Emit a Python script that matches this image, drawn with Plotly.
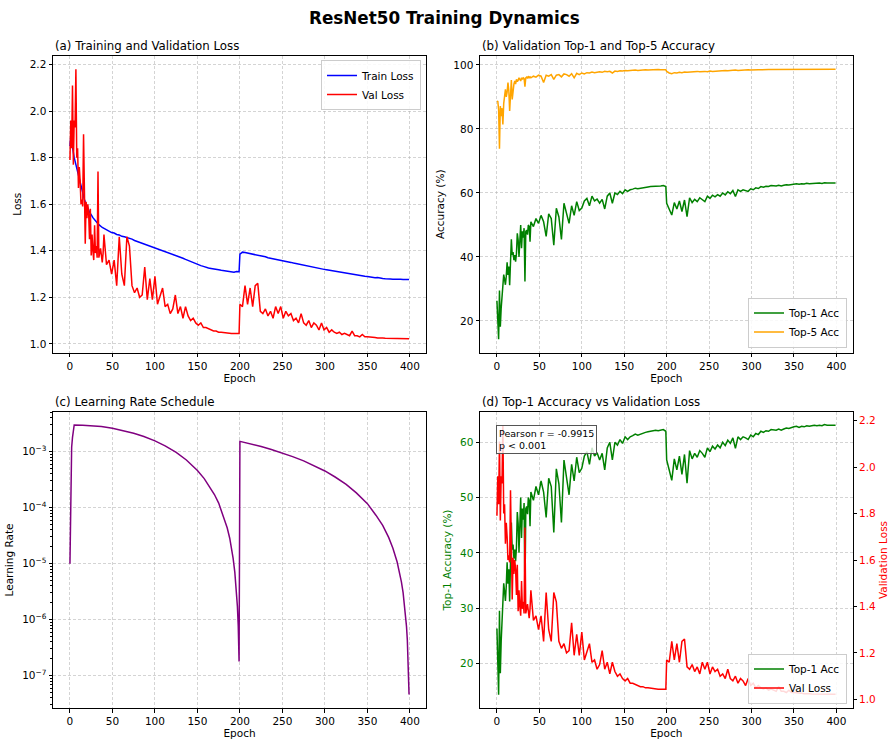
import plotly.graph_objects as go

# ---------------- data ----------------
epochs = list(range(0, 40)) + list(range(40, 200, 3)) + list(range(200, 399, 3)) + [399]

train_loss_early = [1.85, 1.89, 1.87, 1.84, 1.82, 1.80, 1.785, 1.77, 1.75, 1.735,
                    1.72, 1.70, 1.685, 1.67, 1.66, 1.645, 1.63, 1.62, 1.61, 1.60,
                    1.595, 1.582, 1.576, 1.566, 1.56, 1.556, 1.549, 1.542, 1.537, 1.531,
                    1.528, 1.523, 1.52, 1.516, 1.512, 1.51, 1.507, 1.503, 1.50, 1.498]
train_loss_mid = [1.495, 1.49, 1.486, 1.478, 1.476, 1.47, 1.468, 1.462, 1.46, 1.457,
                  1.452, 1.45, 1.444, 1.44, 1.436, 1.433, 1.428, 1.425, 1.42, 1.416,
                  1.414, 1.41, 1.405, 1.403, 1.398, 1.394, 1.39, 1.385, 1.38, 1.376,
                  1.372, 1.368, 1.363, 1.358, 1.353, 1.348, 1.344, 1.34, 1.336, 1.333,
                  1.328, 1.326, 1.324, 1.323, 1.32, 1.318, 1.316, 1.314, 1.312, 1.31,
                  1.31, 1.308, 1.311, 1.31]
train_loss_late = [1.385, 1.394, 1.392, 1.39, 1.388, 1.386, 1.385, 1.383, 1.381, 1.378,
                   1.374, 1.37, 1.368, 1.366, 1.365, 1.362, 1.36, 1.358, 1.355, 1.352,
                   1.35, 1.347, 1.345, 1.342, 1.34, 1.337, 1.334, 1.332, 1.33, 1.328,
                   1.326, 1.324, 1.322, 1.32, 1.318, 1.316, 1.313, 1.312, 1.31, 1.308,
                   1.306, 1.304, 1.302, 1.301, 1.299, 1.296, 1.296, 1.293, 1.291, 1.29,
                   1.289, 1.287, 1.286, 1.284, 1.285, 1.282, 1.281, 1.28, 1.281, 1.279,
                   1.278, 1.279, 1.277, 1.278, 1.277, 1.276, 1.278, 1.277]

val_loss_early = [1.79, 1.96, 1.84, 2.11, 1.77, 1.96, 1.93, 2.18, 1.80, 1.84,
                  1.67, 1.76, 1.70, 1.60, 1.62, 1.59, 1.90, 1.59, 1.43, 1.61,
                  1.54, 1.60, 1.56, 1.45, 1.58, 1.38, 1.47, 1.40, 1.36, 1.51,
                  1.39, 1.42, 1.37, 1.74, 1.37, 1.39, 1.41, 1.38, 1.35, 1.39]
val_loss_mid = [1.47, 1.34, 1.36, 1.30, 1.36, 1.25, 1.46, 1.30, 1.25, 1.46,
                1.42, 1.25, 1.22, 1.24, 1.20, 1.21, 1.33, 1.19, 1.28, 1.19,
                1.29, 1.17, 1.21, 1.24, 1.16, 1.17, 1.13, 1.15, 1.21, 1.13,
                1.16, 1.11, 1.16, 1.12, 1.10, 1.11, 1.09, 1.08, 1.09, 1.07,
                1.07, 1.065, 1.06, 1.055, 1.055, 1.05, 1.05, 1.048, 1.046, 1.045,
                1.044, 1.044, 1.044, 1.044]
val_loss_late = [1.17, 1.16, 1.25, 1.17, 1.24, 1.16, 1.25, 1.26, 1.14, 1.13,
                 1.15, 1.12, 1.14, 1.11, 1.16, 1.13, 1.16, 1.11, 1.14, 1.12,
                 1.13, 1.10, 1.11, 1.09, 1.13, 1.09, 1.08, 1.10, 1.07, 1.09,
                 1.08, 1.06, 1.09, 1.06, 1.07, 1.05, 1.06, 1.05, 1.045, 1.05,
                 1.04, 1.045, 1.04, 1.035, 1.055, 1.035, 1.035, 1.03, 1.04, 1.03,
                 1.03, 1.03, 1.027, 1.027, 1.025, 1.026, 1.025, 1.024, 1.024, 1.024,
                 1.023, 1.023, 1.023, 1.023, 1.022, 1.022, 1.022, 1.022]

top1_early = [26.3, 21.0, 14.3, 29.5, 18.2, 24.0, 28.0, 32.3, 34.5, 33.0,
              31.3, 34.0, 38.3, 34.4, 37.0, 31.2, 36.5, 45.5, 40.6, 41.5,
              39.0, 40.6, 38.5, 41.0, 47.4, 45.3, 40.0, 44.0, 50.0, 42.7,
              48.0, 46.0, 49.0, 32.3, 48.0, 48.4, 47.0, 50.0, 49.5, 44.8]
top1_mid = [51.0, 49.5, 52.0, 50.5, 53.0, 51.0, 46.4, 53.5, 52.0, 43.7,
            55.2, 52.5, 45.5, 56.8, 54.0, 50.5, 56.0, 53.0, 57.3, 54.5,
            55.3, 57.5, 58.3, 56.0, 59.0, 57.5, 58.1, 56.8, 58.0, 55.0,
            59.0, 60.0, 56.8, 60.0, 59.5, 60.5, 59.8, 61.0, 60.5, 61.0,
            61.2, 61.5, 61.3, 61.5, 61.7, 61.8, 61.9, 62.0, 62.0, 62.2,
            62.1, 62.2, 62.3, 62.0]
top1_late = [56.8, 55.0, 53.1, 57.0, 55.0, 57.5, 54.2, 57.8, 52.6, 58.5,
             57.0, 58.0, 57.3, 58.5, 58.0, 57.3, 59.0, 58.3, 59.3, 58.8,
             59.5, 59.0, 60.0, 59.4, 60.4, 59.8, 60.8, 58.9, 61.0, 60.5,
             61.0, 60.8, 60.5, 61.3, 61.0, 61.6, 61.4, 62.0, 61.8, 62.1,
             62.0, 62.3, 62.2, 62.2, 62.4, 62.2, 62.4, 62.6, 62.5, 62.7,
             62.8, 62.9, 62.7, 62.9, 62.8, 63.0, 62.9, 63.0, 63.1, 63.0,
             63.1, 63.0, 63.2, 63.1, 63.1, 63.0, 63.1, 63.1]

top5_early = [88.5, 88.7, 86.0, 73.8, 87.2, 84.0, 86.5, 81.4, 88.0, 90.5,
              92.4, 90.0, 91.5, 94.5, 92.0, 85.6, 93.8, 95.3, 89.2, 93.5,
              94.0, 95.0, 94.0, 95.5, 94.8, 95.2, 96.0, 95.5, 95.0, 96.0,
              95.5, 96.0, 95.8, 93.2, 96.0, 96.2, 95.8, 96.5, 96.0, 96.3]
top5_mid = [96.0, 96.5, 96.2, 96.8, 96.5, 94.5, 96.8, 96.5, 97.0, 95.5,
            96.8, 97.0, 96.3, 97.2, 97.0, 96.5, 97.3, 96.0, 97.4, 97.0,
            97.5, 97.2, 97.6, 97.5, 97.8, 97.6, 97.8, 97.9, 97.7, 98.0,
            97.9, 98.0, 97.5, 98.1, 98.0, 98.2, 98.1, 98.3, 98.2, 98.3,
            98.3, 98.4, 98.3, 98.4, 98.4, 98.5, 98.4, 98.5, 98.5, 98.5,
            98.6, 98.5, 98.6, 98.5]
top5_late = [98.0, 97.5, 97.3, 97.6, 97.5, 97.7, 97.6, 97.8, 97.7, 97.8,
             97.9, 97.8, 98.0, 97.9, 98.0, 98.0, 97.9, 98.1, 98.0, 98.1,
             98.2, 98.1, 98.2, 98.3, 98.2, 98.3, 98.3, 98.4, 98.3, 98.4,
             98.4, 98.4, 98.5, 98.4, 98.5, 98.5, 98.5, 98.5, 98.6, 98.5,
             98.6, 98.6, 98.6, 98.6, 98.6, 98.6, 98.7, 98.6, 98.7, 98.7,
             98.7, 98.7, 98.7, 98.7, 98.7, 98.7, 98.7, 98.7, 98.7, 98.7,
             98.7, 98.7, 98.7, 98.7, 98.7, 98.7, 98.7, 98.7]

lr_epochs = [0, 1, 2, 3, 4, 5, 15, 25, 37, 50, 62, 75, 87, 100, 112, 125, 137, 150,
             158, 165, 170, 175, 180, 185, 188, 190, 192, 194, 195, 196, 197, 198, 199,
             200, 210, 225, 237, 250, 262, 275, 287, 300, 312, 325, 337, 350, 360, 368,
             375, 380, 385, 388, 390, 392, 394, 395, 396, 397, 398, 399]
lr_values = [1.0e-5, 6.1e-4, 1.2e-3, 1.8e-3, 2.4e-3, 3.0e-3, 2.98e-3, 2.92e-3, 2.805e-3,
             2.62e-3, 2.41e-3, 2.14e-3, 1.87e-3, 1.56e-3, 1.27e-3, 9.68e-4, 7.10e-4, 4.62e-4,
             3.31e-4, 2.30e-4, 1.72e-4, 1.21e-4, 7.49e-5, 4.37e-5, 2.85e-5, 1.95e-5, 1.24e-5,
             7.0e-6, 4.87e-6, 3.11e-6, 1.75e-6, 7.79e-7, 1.8e-7,
             1.53e-3, 1.41e-3, 1.233e-3, 1.093e-3, 9.47e-4, 8.16e-4, 6.84e-4, 5.67e-4, 4.53e-4,
             3.53e-4, 2.61e-4, 1.84e-4, 1.18e-4, 7.35e-5, 4.83e-5, 2.95e-5, 1.89e-5, 1.07e-5,
             6.83e-6, 4.74e-6, 3.04e-6, 1.71e-6, 1.19e-6, 7.59e-7, 4.27e-7, 1.90e-7, 4.6e-8]

lr_tickvals = [1e-7, 1e-6, 1e-5, 1e-4, 1e-3]
lr_ticktext = ["10<sup>\u22127</sup>", "10<sup>\u22126</sup>", "10<sup>\u22125</sup>",
               "10<sup>\u22124</sup>", "10<sup>\u22123</sup>"]

pearson_text = "Pearson r = -0.9915<br>p &lt; 0.001"

train_loss = train_loss_early + train_loss_mid + train_loss_late
val_loss = val_loss_early + val_loss_mid + val_loss_late
top1 = top1_early + top1_mid + top1_late
top5 = top5_early + top5_mid + top5_late
for s in (train_loss, val_loss, top1, top5):
    assert len(s) == len(epochs), (len(s), len(epochs))
assert len(lr_epochs) == len(lr_values)

# ---------------- layout helpers ----------------
W, H = 889, 739
FONT = "DejaVu Sans"
FS = 10.5
TFS = 11.8


def xd(a, b):
    return [a / W, b / W]


def yd(top, bottom):
    return [1 - bottom / H, 1 - top / H]


grid = dict(showgrid=True, gridcolor="rgba(176,176,176,0.55)", gridwidth=0.8, griddash="3px,2px")
axis_common = dict(showline=True, linecolor="black", linewidth=1, mirror=True,
                   ticks="outside", ticklen=3.5, tickwidth=0.8, tickcolor="black",
                   zeroline=False, automargin=False,
                   tickfont=dict(family=FONT, size=FS, color="black"))

fig = go.Figure()
LW = 1.5

# (a)
fig.add_trace(go.Scatter(x=epochs, y=train_loss, mode="lines", name="Train Loss",
                         line=dict(color="blue", width=LW), xaxis="x", yaxis="y", legend="legend"))
fig.add_trace(go.Scatter(x=epochs, y=val_loss, mode="lines", name="Val Loss",
                         line=dict(color="red", width=LW), xaxis="x", yaxis="y", legend="legend"))
# (b)
fig.add_trace(go.Scatter(x=epochs, y=top1, mode="lines", name="Top-1 Acc",
                         line=dict(color="green", width=LW), xaxis="x2", yaxis="y2", legend="legend2"))
fig.add_trace(go.Scatter(x=epochs, y=top5, mode="lines", name="Top-5 Acc",
                         line=dict(color="orange", width=LW), xaxis="x2", yaxis="y2", legend="legend2"))
# (c)
fig.add_trace(go.Scatter(x=lr_epochs, y=lr_values, mode="lines", name="LR", showlegend=False,
                         line=dict(color="purple", width=LW), xaxis="x3", yaxis="y3"))
# (d)
fig.add_trace(go.Scatter(x=epochs, y=top1, mode="lines", name="Top-1 Acc",
                         line=dict(color="green", width=LW), xaxis="x4", yaxis="y4", legend="legend3"))
fig.add_trace(go.Scatter(x=epochs, y=val_loss, mode="lines", name="Val Loss",
                         line=dict(color="red", width=LW), xaxis="x4", yaxis="y5", legend="legend3"))

xr = [-19.95, 418.95]
top_row = (55.7, 352.7)
bot_row = (411.7, 708.3)
left_col = (53, 426)
right_col = (480, 852.5)

xtitle = dict(text="Epoch", font=dict(family=FONT, size=FS, color="black"), standoff=1)

minor_vals = [m * 10.0 ** e for e in range(-8, -2) for m in range(2, 10)]

fig.update_layout(
    width=W, height=H, margin=dict(l=0, r=0, t=0, b=0),
    paper_bgcolor="white", plot_bgcolor="white",
    font=dict(family=FONT, size=FS, color="black"),
    xaxis=dict(domain=xd(*left_col), anchor="y", range=xr, dtick=50, tick0=0,
               title=xtitle, **grid, **axis_common),
    yaxis=dict(domain=yd(*top_row), anchor="x", range=[0.962, 2.238], dtick=0.2, tick0=0,
               tickformat=".1f",
               title=dict(text="Loss", font=dict(family=FONT, size=FS), standoff=6),
               **grid, **axis_common),
    xaxis2=dict(domain=xd(*right_col), anchor="y2", range=xr, dtick=50, tick0=0,
                title=xtitle, **grid, **axis_common),
    yaxis2=dict(domain=yd(*top_row), anchor="x2", range=[10.08, 102.9], dtick=20, tick0=0,
                title=dict(text="Accuracy (%)", font=dict(family=FONT, size=FS), standoff=6),
                **grid, **axis_common),
    xaxis3=dict(domain=xd(*left_col), anchor="y3", range=xr, dtick=50, tick0=0,
                title=xtitle, **grid, **axis_common),
    yaxis3=dict(domain=yd(*bot_row), anchor="x3", type="log", range=[-7.582, -2.286],
                tickvals=lr_tickvals, ticktext=lr_ticktext,
                minor=dict(tickvals=minor_vals, ticks="outside", ticklen=2, tickwidth=0.6,
                           tickcolor="black", showgrid=False),
                title=dict(text="Learning Rate", font=dict(family=FONT, size=FS), standoff=6),
                **grid, **axis_common),
    xaxis4=dict(domain=xd(*right_col), anchor="y4", range=xr, dtick=50, tick0=0,
                title=xtitle, **grid, **axis_common),
    yaxis4=dict(domain=yd(*bot_row), anchor="x4", range=[11.86, 65.54], dtick=10, tick0=0,
                title=dict(text="Top-1 Accuracy (%)", font=dict(family=FONT, size=FS, color="green"),
                           standoff=6),
                **grid, **{k: v for k, v in axis_common.items() if k != "tickfont"},
                tickfont=dict(family=FONT, size=FS, color="green")),
    yaxis5=dict(overlaying="y4", anchor="x4", side="right", range=[0.962, 2.238], dtick=0.2,
                tick0=0, tickformat=".1f", showgrid=False,
                showline=True, linecolor="black", linewidth=1, ticks="outside", ticklen=3.5,
                tickwidth=0.8, tickcolor="black", zeroline=False, automargin=False,
                tickfont=dict(family=FONT, size=FS, color="red"),
                title=dict(text="Validation Loss", font=dict(family=FONT, size=FS, color="red"),
                           standoff=6)),
    legend=dict(x=421 / W, y=1 - 60 / H, xanchor="right", yanchor="top",
                bgcolor="rgba(255,255,255,0.85)", bordercolor="#cccccc", borderwidth=1,
                font=dict(family=FONT, size=FS), tracegroupgap=0, itemwidth=30),
    legend2=dict(x=847 / W, y=1 - 347.5 / H, xanchor="right", yanchor="bottom",
                 bgcolor="rgba(255,255,255,0.85)", bordercolor="#cccccc", borderwidth=1,
                 font=dict(family=FONT, size=FS), tracegroupgap=0, itemwidth=30),
    legend3=dict(x=847 / W, y=1 - 703.5 / H, xanchor="right", yanchor="bottom",
                 bgcolor="rgba(255,255,255,0.85)", bordercolor="#cccccc", borderwidth=1,
                 font=dict(family=FONT, size=FS), tracegroupgap=0, itemwidth=30),
)

annots = [
    dict(text="<b>ResNet50 Training Dynamics</b>", x=0.5, y=1 - 18 / H, xanchor="center",
         yanchor="middle", font=dict(family=FONT, size=16.8, color="black")),
    dict(text="(a) Training and Validation Loss", x=53 / W, y=1 - 46 / H, xanchor="left",
         yanchor="middle", font=dict(family=FONT, size=TFS, color="black")),
    dict(text="(b) Validation Top-1 and Top-5 Accuracy", x=480 / W, y=1 - 46 / H, xanchor="left",
         yanchor="middle", font=dict(family=FONT, size=TFS, color="black")),
    dict(text="(c) Learning Rate Schedule", x=53 / W, y=1 - 401.7 / H, xanchor="left",
         yanchor="middle", font=dict(family=FONT, size=TFS, color="black")),
    dict(text="(d) Top-1 Accuracy vs Validation Loss", x=480 / W, y=1 - 401.7 / H, xanchor="left",
         yanchor="middle", font=dict(family=FONT, size=TFS, color="black")),
    dict(text=pearson_text, x=496 / W, y=1 - 424.5 / H, xanchor="left", yanchor="top",
         align="left", font=dict(family=FONT, size=9.5, color="black"),
         bgcolor="rgba(255,255,255,0.8)", bordercolor="#555555", borderwidth=1, borderpad=2),
]
for a in annots:
    a.update(xref="paper", yref="paper", showarrow=False)
fig.update_layout(annotations=annots)

fig.write_html("out.html")
